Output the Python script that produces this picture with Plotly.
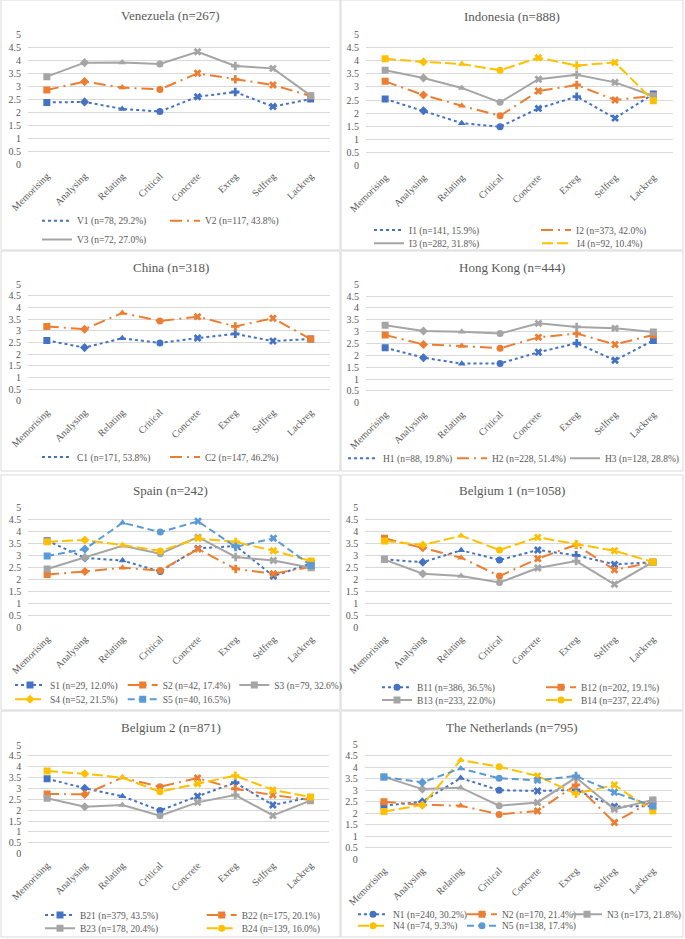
import plotly.graph_objects as go

# ---------------- data ----------------
categories = ["Memorising", "Analysing", "Relating", "Critical",
              "Concrete", "Exreg", "Selfreg", "Lackreg"]

VEN_V1 = [2.38, 2.40, 2.13, 2.03, 2.60, 2.78, 2.22, 2.51]
VEN_V2 = [2.86, 3.18, 2.95, 2.88, 3.50, 3.27, 3.05, 2.63]
VEN_V3 = [3.37, 3.91, 3.92, 3.86, 4.33, 3.78, 3.69, 2.64]

IDN_I1 = [2.54, 2.09, 1.62, 1.48, 2.18, 2.63, 1.81, 2.73]
IDN_I2 = [3.21, 2.69, 2.28, 1.90, 2.84, 3.07, 2.50, 2.66]
IDN_I3 = [3.63, 3.34, 2.96, 2.41, 3.29, 3.46, 3.17, 2.65]
IDN_I4 = [4.07, 3.95, 3.87, 3.63, 4.11, 3.81, 3.93, 2.47]

CHN_C1 = [2.59, 2.28, 2.68, 2.48, 2.69, 2.87, 2.56, 2.65]
CHN_C2 = [3.19, 3.07, 3.77, 3.42, 3.61, 3.19, 3.54, 2.65]

HKG_H1 = [2.32, 1.90, 1.65, 1.66, 2.13, 2.51, 1.79, 2.63]
HKG_H2 = [2.86, 2.46, 2.39, 2.30, 2.76, 2.92, 2.46, 2.86]
HKG_H3 = [3.27, 3.03, 3.00, 2.92, 3.35, 3.20, 3.14, 2.99]

ESP_S1 = [3.62, 2.90, 2.79, 2.33, 3.30, 3.40, 2.14, 2.67]
ESP_S2 = [2.21, 2.33, 2.49, 2.37, 3.27, 2.44, 2.24, 2.53]
ESP_S3 = [2.44, 2.92, 3.41, 3.08, 3.77, 2.94, 2.79, 2.49]
ESP_S4 = [3.58, 3.65, 3.44, 3.19, 3.72, 3.57, 3.20, 2.77]
ESP_S5 = [2.98, 3.27, 4.37, 3.98, 4.43, 3.36, 3.72, 2.58]

BEL1_B11 = [2.84, 2.72, 3.22, 2.81, 3.23, 3.01, 2.63, 2.72]
BEL1_B12 = [3.72, 3.33, 2.91, 2.14, 2.87, 3.45, 2.40, 2.72]
BEL1_B13 = [2.83, 2.24, 2.14, 1.87, 2.48, 2.77, 1.80, 2.72]
BEL1_B14 = [3.61, 3.44, 3.83, 3.23, 3.76, 3.47, 3.20, 2.73]

BEL2_B21 = [3.45, 3.01, 2.64, 1.99, 2.64, 3.27, 2.24, 2.59]
BEL2_B22 = [2.75, 2.73, 3.50, 3.08, 3.48, 2.98, 2.70, 2.47]
BEL2_B23 = [2.55, 2.16, 2.24, 1.75, 2.36, 2.70, 1.76, 2.44]
BEL2_B24 = [3.80, 3.68, 3.50, 2.85, 3.22, 3.59, 2.93, 2.61]

NLD_N1 = [2.32, 2.49, 3.52, 2.99, 2.96, 3.00, 2.28, 2.30]
NLD_N2 = [2.49, 2.35, 2.32, 1.94, 2.09, 3.22, 1.59, 2.54]
NLD_N3 = [3.57, 3.04, 3.10, 2.32, 2.46, 3.54, 2.16, 2.57]
NLD_N4 = [2.06, 2.35, 4.30, 4.01, 3.61, 2.83, 3.22, 2.09]
NLD_N5 = [3.57, 3.33, 3.94, 3.51, 3.42, 3.61, 2.90, 2.30]

y_ticks = [0, 0.5, 1, 1.5, 2, 2.5, 3, 3.5, 4, 4.5, 5]
y_tick_labels = ["0", "0.5", "1", "1.5", "2", "2.5", "3", "3.5", "4", "4.5", "5"]

# ---------------- styles ----------------
W, H = 685, 939
FONT = "Liberation Serif"
TXT = "#595959"
GRID = "#D9D9D9"
STYLE = {
    "blue": dict(color="#4472C4", dash="dot"),
    "orange": dict(color="#ED7D31", dash="12px,5px,2px,5px"),
    "gray": dict(color="#A5A5A5", dash="solid"),
    "yellow": dict(color="#FFC000", dash="11px,4px"),
    "lblue": dict(color="#5B9BD5", dash="7px,4px"),
}
POINT_SYMBOLS = ["square", "diamond", "triangle-up", "circle", "x", "cross", "x", "square"]

panels = [
    dict(title="Venezuela (n=267)", box=(1, 0, 340, 250), plot=(28, 34.3, 329.5, 164.3), ty=15.7,
         series=[("V1 (n=78, 29.2%)", VEN_V1, "blue", None, (42, 220.7)),
                 ("V2 (n=117, 43.8%)", VEN_V2, "orange", None, (170, 220.7)),
                 ("V3 (n=72, 27.0%)", VEN_V3, "gray", None, (42, 239.5))]),
    dict(title="Indonesia (n=888)", box=(341, 0, 683, 250), plot=(366, 34.3, 672.5, 165.7), ty=16,
         series=[("I1 (n=141, 15.9%)", IDN_I1, "blue", None, (374, 230)),
                 ("I2 (n=373, 42.0%)", IDN_I2, "orange", None, (541, 230)),
                 ("I3 (n=282, 31.8%)", IDN_I3, "gray", None, (374, 243.3)),
                 ("I4 (n=92, 10.4%)", IDN_I4, "yellow", None, (542, 243.3))]),
    dict(title="China (n=318)", box=(1, 251, 340, 471), plot=(28, 284.3, 329.5, 400.7), ty=267.3,
         series=[("C1 (n=171, 53.8%)", CHN_C1, "blue", None, (42, 457)),
                 ("C2 (n=147, 46.2%)", CHN_C2, "orange", None, (170, 457))]),
    dict(title="Hong Kong (n=444)", box=(341, 251, 683, 471), plot=(366, 284.3, 672.5, 402.7), ty=267.3,
         series=[("H1 (n=88, 19.8%)", HKG_H1, "blue", None, (348, 458.3)),
                 ("H2 (n=228, 51.4%)", HKG_H2, "orange", None, (457, 458.3)),
                 ("H3 (n=128, 28.8%)", HKG_H3, "gray", None, (570, 458.3))]),
    dict(title="Spain (n=242)", box=(1, 475, 340, 710), plot=(28.3, 507.7, 330, 627.3), ty=490,
         series=[("S1 (n=29, 12.0%)", ESP_S1, "blue", "square", (15, 685)),
                 ("S2 (n=42, 17.4%)", ESP_S2, "orange", "square", (127.7, 685)),
                 ("S3 (n=79, 32.6%)", ESP_S3, "gray", "square", (239.3, 685)),
                 ("S4 (n=52, 21.5%)", ESP_S4, "yellow", "diamond", (15, 699.3)),
                 ("S5 (n=40, 16.5%)", ESP_S5, "lblue", "square", (127.7, 699.3))]),
    dict(title="Belgium 1 (n=1058)", box=(341, 475, 683, 710), plot=(365.3, 507.7, 672, 627.3), ty=490,
         series=[("B11 (n=386, 36.5%)", BEL1_B11, "blue", "circle", (382, 687.3)),
                 ("B12 (n=202, 19.1%)", BEL1_B12, "orange", "square", (546, 687.3)),
                 ("B13 (n=233, 22.0%)", BEL1_B13, "gray", "square", (382, 700)),
                 ("B14 (n=237, 22.4%)", BEL1_B14, "yellow", "circle", (546, 700))]),
    dict(title="Belgium 2 (n=871)", box=(1, 711, 340, 937), plot=(28.3, 745, 329.3, 853.7), ty=727.7,
         series=[("B21 (n=379, 43.5%)", BEL2_B21, "blue", "square", (45, 915)),
                 ("B22 (n=175, 20.1%)", BEL2_B22, "orange", "square", (206.7, 915)),
                 ("B23 (n=178, 20.4%)", BEL2_B23, "gray", "square", (45, 928.3)),
                 ("B24 (n=139, 16.0%)", BEL2_B24, "yellow", "circle", (206.7, 928.3))]),
    dict(title="The Netherlands (n=795)", box=(341, 711, 683, 937), plot=(364.7, 744, 672, 859), ty=727.7,
         series=[("N1 (n=240, 30.2%)", NLD_N1, "blue", "circle", (358, 914.3)),
                 ("N2 (n=170, 21.4%)", NLD_N2, "orange", "square", (467, 914.3)),
                 ("N3 (n=173, 21.8%)", NLD_N3, "gray", "square", (572, 914.3)),
                 ("N4 (n=74, 9.3%)", NLD_N4, "yellow", "circle", (358, 925.7)),
                 ("N5 (n=138, 17.4%)", NLD_N5, "lblue", "circle", (467, 925.7))]),
]

fig = go.Figure()
layout = dict(width=W, height=H, margin=dict(l=0, r=0, t=0, b=0, autoexpand=False),
              paper_bgcolor="white", plot_bgcolor="white",
              font=dict(family=FONT, color=TXT, size=10),
              shapes=[], annotations=[], showlegend=True)

leg_idx = 0
for i, p in enumerate(panels):
    n = i + 1
    xa = "xaxis" if n == 1 else f"xaxis{n}"
    ya = "yaxis" if n == 1 else f"yaxis{n}"
    xr = "x" if n == 1 else f"x{n}"
    yr = "y" if n == 1 else f"y{n}"
    x0, yt, x1, yb = p["plot"]
    layout[xa] = dict(domain=[x0 / W, x1 / W], anchor=yr, type="category",
                      categoryorder="array", categoryarray=categories,
                      range=[-0.5, 7.5], tickangle=-45, showgrid=False,
                      showline=False, zeroline=False, ticks="", automargin=False,
                      ticklabelstandoff=3,
                      tickfont=dict(family=FONT, size=10, color=TXT), fixedrange=True)
    layout[ya] = dict(domain=[1 - yb / H, 1 - yt / H], anchor=xr, range=[0, 5],
                      tickmode="array", tickvals=y_ticks, ticktext=y_tick_labels,
                      showgrid=True, gridcolor=GRID, gridwidth=1, zeroline=False,
                      showline=False, ticks="", ticklabelstandoff=6, automargin=False,
                      tickfont=dict(family=FONT, size=10, color=TXT), fixedrange=True)
    bx0, by0, bx1, by1 = p["box"]
    layout["shapes"].append(dict(type="rect", xref="paper", yref="paper",
                                 x0=bx0 / W, x1=bx1 / W, y0=1 - by1 / H, y1=1 - by0 / H,
                                 line=dict(color=GRID, width=1), layer="below"))
    layout["annotations"].append(dict(text=p["title"], xref="paper", yref="paper",
                                      x=((bx0 + bx1) / 2) / W, y=1 - p["ty"] / H,
                                      xanchor="center", yanchor="middle", showarrow=False,
                                      font=dict(family=FONT, size=13, color=TXT)))
    for name, vals, sty, legsym, (lx, ly) in p["series"]:
        st = STYLE[sty]
        fig.add_trace(go.Scatter(
            x=categories, y=vals, xaxis=xr, yaxis=yr, mode="lines+markers",
            line=dict(color=st["color"], width=2, dash=st["dash"]),
            marker=dict(symbol=POINT_SYMBOLS, size=7, color=st["color"],
                        line=dict(width=0)),
            showlegend=False, name=name, hoverinfo="skip"))
        leg_idx += 1
        lname = "legend" if leg_idx == 1 else f"legend{leg_idx}"
        # legend-only proxy entry (no data point)
        fig.add_trace(go.Scatter(
            x=[None], y=[None], xaxis=xr, yaxis=yr,
            mode="lines" if legsym is None else "lines+markers",
            line=dict(color=st["color"], width=2, dash=st["dash"]),
            marker=dict(symbol=legsym or "circle", size=7, color=st["color"]),
            name=name, showlegend=True, legend=lname))
        layout[lname] = dict(x=(lx - 5) / W, y=1 - ly / H, xanchor="left", yanchor="middle",
                             orientation="h", bgcolor="rgba(0,0,0,0)", borderwidth=0,
                             font=dict(family=FONT, size=9.5, color=TXT),
                             itemclick=False, itemdoubleclick=False)

fig.update_layout(**layout)
fig.write_html("out.html", config={"displayModeBar": False},
               post_script="document.body.style.margin='0px';document.body.style.overflow='hidden';")
